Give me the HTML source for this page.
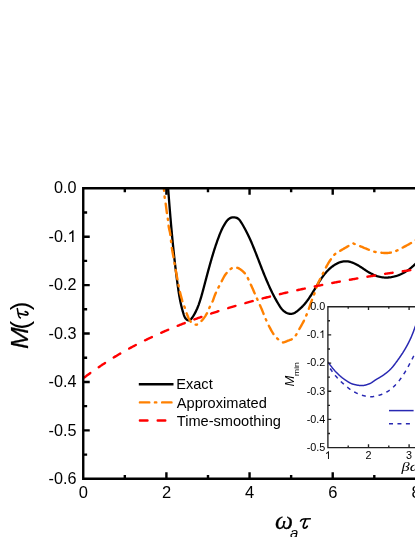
<!DOCTYPE html>
<html><head><meta charset="utf-8"><title>chart</title>
<style>
html,body{margin:0;padding:0;background:#fff;}
body{width:415px;height:537px;overflow:hidden;}
svg{display:block;will-change:transform;}
text{font-family:"Liberation Sans",sans-serif;fill:#000;}
.se{font-family:"Liberation Serif",serif;font-style:italic;}
</style></head><body>
<svg width="415" height="537" viewBox="0 0 415 537">
<rect width="415" height="537" fill="#fff"/>
<defs><clipPath id="cp"><rect x="83.24" y="188.25" width="400" height="290.55"/></clipPath><clipPath id="ci"><rect x="327.90" y="306.70" width="100" height="140.90"/></clipPath></defs>
<g clip-path="url(#cp)" fill="none" stroke-linejoin="round">
<path d="M166.03,160.03 L166.11,161.13 L166.20,162.24 L166.28,163.35 L166.36,164.46 L166.44,165.57 L166.52,166.67 L166.60,167.78 L166.69,168.89 L166.77,170.01 L166.85,171.12 L166.93,172.23 L167.01,173.34 L167.10,174.45 L167.18,175.56 L167.26,176.68 L167.34,177.79 L167.43,178.91 L167.51,180.02 L167.59,181.13 L167.67,182.25 L167.76,183.36 L167.84,184.48 L167.93,185.60 L168.01,186.71 L168.09,187.83 L168.18,188.94 L168.26,190.06 L168.35,191.18 L168.43,192.30 L168.52,193.41 L168.60,194.53 L168.69,195.65 L168.78,196.77 L168.86,197.89 L168.95,199.00 L169.04,200.12 L169.13,201.24 L169.22,202.36 L169.30,203.48 L169.39,204.60 L169.48,205.72 L169.57,206.84 L169.66,207.96 L169.75,209.08 L169.85,210.20 L169.94,211.32 L170.03,212.44 L170.12,213.55 L170.22,214.67 L170.31,215.79 L170.40,216.91 L170.50,218.03 L170.60,219.15 L170.69,220.27 L170.79,221.39 L170.89,222.51 L170.98,223.63 L171.08,224.75 L171.18,225.87 L171.28,226.99 L171.38,228.11 L171.48,229.23 L171.58,230.34 L171.69,231.46 L171.79,232.58 L171.89,233.70 L172.00,234.82 L172.10,235.93 L172.21,237.05 L172.32,238.17 L172.42,239.29 L172.53,240.40 L172.64,241.52 L172.75,242.64 L172.86,243.75 L172.97,244.87 L173.09,245.98 L173.20,247.10 L173.31,248.21 L173.43,249.33 L173.54,250.44 L173.66,251.55 L173.78,252.67 L173.90,253.78 L174.02,254.89 L174.14,256.00 L174.26,257.12 L174.38,258.23 L174.50,259.34 L174.63,260.45 L174.75,261.56 L174.88,262.67 L175.01,263.78 L175.13,264.89 L175.26,265.99 L175.39,267.10 L175.52,268.21 L175.66,269.31 L175.79,270.42 L175.93,271.53 L176.06,272.63 L176.20,273.73 L176.34,274.84 L176.48,275.94 L176.62,277.04 L176.76,278.14 L176.90,279.25 L177.04,280.35 L177.19,281.45 L177.33,282.54 L177.48,283.64 L177.63,284.74 L177.78,285.84 L177.93,286.93 L178.09,288.03 L178.24,289.13 L178.40,290.22 L178.57,291.32 L178.73,292.42 L178.91,293.51 L179.09,294.61 L179.27,295.71 L179.46,296.81 L179.66,297.92 L179.86,299.02 L180.08,300.13 L180.30,301.24 L180.53,302.35 L180.77,303.47 L181.02,304.59 L181.28,305.71 L181.56,306.84 L181.84,307.96 L182.14,309.10 L182.45,310.24 L182.77,311.38 L183.11,312.52 L183.46,313.67 L183.83,314.82 L184.24,315.93 L184.71,316.98 L185.23,317.95 L185.85,318.80 L186.56,319.51 L187.37,320.04 L188.23,320.35 L189.10,320.37 L189.92,320.06 L190.68,319.48 L191.41,318.70 L192.10,317.80 L192.75,316.85 L193.38,315.89 L193.98,314.91 L194.55,313.92 L195.10,312.91 L195.63,311.90 L196.13,310.87 L196.61,309.84 L197.08,308.79 L197.52,307.74 L197.94,306.68 L198.35,305.62 L198.75,304.55 L199.12,303.48 L199.49,302.41 L199.84,301.34 L200.18,300.27 L200.52,299.20 L200.84,298.13 L201.16,297.07 L201.47,296.00 L201.77,294.93 L202.07,293.87 L202.36,292.80 L202.65,291.73 L202.94,290.66 L203.22,289.59 L203.51,288.52 L203.80,287.45 L204.08,286.37 L204.37,285.30 L204.65,284.22 L204.93,283.14 L205.22,282.07 L205.50,280.99 L205.79,279.91 L206.08,278.83 L206.36,277.75 L206.65,276.67 L206.94,275.59 L207.22,274.50 L207.51,273.42 L207.80,272.34 L208.09,271.26 L208.39,270.17 L208.68,269.09 L208.98,268.01 L209.27,266.93 L209.57,265.85 L209.87,264.77 L210.18,263.68 L210.48,262.60 L210.79,261.52 L211.10,260.45 L211.41,259.37 L211.72,258.29 L212.04,257.21 L212.36,256.14 L212.68,255.06 L213.01,253.99 L213.34,252.92 L213.67,251.85 L214.00,250.78 L214.34,249.71 L214.68,248.64 L215.03,247.58 L215.38,246.51 L215.73,245.45 L216.09,244.39 L216.45,243.34 L216.81,242.28 L217.18,241.23 L217.56,240.17 L217.94,239.12 L218.32,238.08 L218.71,237.03 L219.10,235.99 L219.50,234.95 L219.91,233.92 L220.33,232.89 L220.77,231.86 L221.21,230.84 L221.68,229.82 L222.16,228.81 L222.65,227.80 L223.17,226.81 L223.71,225.81 L224.27,224.83 L224.86,223.85 L225.47,222.89 L226.11,221.93 L226.79,221.00 L227.52,220.13 L228.31,219.33 L229.19,218.65 L230.16,218.10 L231.21,217.69 L232.31,217.43 L233.44,217.32 L234.57,217.35 L235.68,217.54 L236.73,217.88 L237.70,218.37 L238.56,219.01 L239.34,219.78 L240.04,220.64 L240.69,221.57 L241.31,222.54 L241.91,223.51 L242.49,224.49 L243.07,225.47 L243.64,226.46 L244.19,227.45 L244.74,228.44 L245.28,229.43 L245.80,230.43 L246.32,231.43 L246.83,232.43 L247.33,233.43 L247.83,234.44 L248.31,235.45 L248.79,236.46 L249.26,237.48 L249.73,238.49 L250.19,239.51 L250.64,240.53 L251.09,241.55 L251.53,242.57 L251.96,243.60 L252.40,244.63 L252.82,245.66 L253.25,246.69 L253.67,247.72 L254.09,248.75 L254.50,249.79 L254.91,250.82 L255.32,251.86 L255.73,252.90 L256.14,253.94 L256.55,254.98 L256.95,256.02 L257.36,257.07 L257.76,258.11 L258.16,259.15 L258.57,260.20 L258.97,261.24 L259.38,262.29 L259.78,263.34 L260.18,264.38 L260.59,265.43 L261.00,266.47 L261.40,267.52 L261.81,268.56 L262.22,269.61 L262.64,270.65 L263.05,271.69 L263.47,272.73 L263.89,273.78 L264.31,274.82 L264.73,275.85 L265.16,276.89 L265.59,277.93 L266.02,278.96 L266.45,280.00 L266.89,281.03 L267.34,282.06 L267.78,283.08 L268.23,284.11 L268.69,285.13 L269.15,286.15 L269.61,287.17 L270.08,288.19 L270.56,289.20 L271.03,290.21 L271.52,291.22 L272.01,292.22 L272.50,293.23 L273.01,294.22 L273.51,295.22 L274.03,296.21 L274.55,297.20 L275.07,298.18 L275.61,299.16 L276.15,300.14 L276.69,301.11 L277.25,302.08 L277.81,303.05 L278.38,304.01 L278.96,304.96 L279.55,305.91 L280.16,306.84 L280.80,307.76 L281.49,308.64 L282.22,309.49 L283.01,310.30 L283.87,311.07 L284.80,311.78 L285.81,312.42 L286.87,312.98 L287.97,313.43 L289.09,313.74 L290.21,313.91 L291.30,313.90 L292.36,313.72 L293.39,313.39 L294.39,312.93 L295.36,312.38 L296.31,311.76 L297.23,311.09 L298.12,310.40 L298.99,309.68 L299.84,308.95 L300.67,308.19 L301.48,307.42 L302.27,306.62 L303.04,305.81 L303.79,304.98 L304.52,304.14 L305.24,303.28 L305.95,302.41 L306.63,301.52 L307.31,300.63 L307.97,299.72 L308.62,298.80 L309.26,297.88 L309.89,296.94 L310.51,296.00 L311.12,295.05 L311.72,294.10 L312.32,293.14 L312.91,292.18 L313.50,291.22 L314.08,290.25 L314.66,289.29 L315.24,288.32 L315.81,287.36 L316.38,286.40 L316.96,285.44 L317.54,284.48 L318.12,283.53 L318.70,282.58 L319.29,281.64 L319.89,280.71 L320.50,279.78 L321.11,278.86 L321.74,277.95 L322.38,277.05 L323.03,276.15 L323.70,275.27 L324.38,274.40 L325.08,273.54 L325.80,272.69 L326.55,271.85 L327.31,271.03 L328.09,270.22 L328.90,269.43 L329.73,268.66 L330.59,267.90 L331.47,267.16 L332.38,266.45 L333.31,265.77 L334.26,265.12 L335.23,264.50 L336.21,263.93 L337.22,263.41 L338.24,262.93 L339.28,262.51 L340.33,262.14 L341.39,261.83 L342.47,261.59 L343.56,261.41 L344.65,261.31 L345.76,261.29 L346.87,261.34 L347.99,261.47 L349.10,261.67 L350.21,261.93 L351.30,262.25 L352.38,262.62 L353.44,263.03 L354.47,263.47 L355.48,263.95 L356.46,264.46 L357.43,264.99 L358.38,265.54 L359.32,266.11 L360.25,266.70 L361.17,267.30 L362.09,267.91 L363.00,268.53 L363.92,269.15 L364.84,269.77 L365.76,270.39 L366.70,271.00 L367.65,271.60 L368.62,272.19 L369.60,272.76 L370.60,273.32 L371.63,273.85 L372.67,274.36 L373.73,274.85 L374.81,275.30 L375.89,275.71 L376.99,276.09 L378.09,276.43 L379.19,276.72 L380.29,276.97 L381.40,277.18 L382.50,277.34 L383.61,277.46 L384.71,277.54 L385.81,277.57 L386.91,277.57 L388.01,277.52 L389.10,277.44 L390.19,277.32 L391.28,277.17 L392.36,276.98 L393.43,276.75 L394.50,276.49 L395.57,276.19 L396.62,275.87 L397.67,275.51 L398.72,275.12 L399.75,274.70 L400.77,274.26 L401.79,273.78 L402.79,273.28 L403.78,272.76 L404.76,272.20 L405.73,271.62 L406.69,271.02 L407.64,270.40 L408.57,269.76 L409.49,269.09 L410.39,268.40 L411.28,267.70 L412.15,266.97 L413.01,266.23 L413.85,265.47 L414.67,264.70 L415.48,263.91 L416.26,263.11 L417.03,262.29 L417.78,261.47 L418.51,260.63 L419.22,259.78 L419.90,258.92" stroke="#000" stroke-width="2.3"/>
<path d="M161.60,160.00 L162.12,166.39 L162.64,172.77 L163.15,179.16 L163.67,185.55 L164.19,192.10 L164.71,197.83 L165.22,200.85 L165.74,204.00 L166.26,208.12 L166.78,212.31 L167.30,215.66 L167.81,218.67 L168.33,223.87 L168.85,227.55 L169.37,229.88 L169.89,232.05 L170.40,235.02 L170.92,240.24 L171.44,244.81 L171.96,248.68 L172.47,251.84 L172.99,254.63 L173.51,257.42 L174.03,260.47 L174.55,263.57 L175.06,266.50 L175.58,269.35 L176.10,272.19 L176.62,275.01 L177.14,277.81 L177.65,280.57 L178.17,283.29 L178.69,285.98 L179.21,288.63 L179.72,290.97 L180.24,293.14 L180.76,295.21 L181.28,297.18 L181.80,299.05 L182.31,300.82 L182.83,302.48 L183.35,304.02 L183.87,305.36 L184.38,306.64 L184.90,308.01 L185.42,309.59 L185.94,311.27 L186.46,312.85 L186.97,314.18 L187.49,315.48 L188.01,316.75 L188.53,317.96 L189.05,319.08 L189.56,320.09 L190.08,320.94 L190.60,321.61 L191.12,322.08 L191.63,322.50 L192.15,322.91 L192.67,323.28 L193.19,323.62 L193.71,323.93 L194.22,324.19 L194.74,324.41 L195.26,324.56 L195.78,324.66 L196.29,324.70 L196.81,324.64 L197.33,324.46 L197.85,324.18 L198.37,323.82 L198.88,323.40 L199.40,322.93 L199.92,322.44 L200.44,321.93 L200.96,321.43 L201.47,320.94 L201.99,320.41 L202.51,319.84 L203.03,319.23 L203.54,318.57 L204.06,317.88 L204.58,317.15 L205.10,316.38 L205.62,315.57 L206.13,314.73 L206.65,313.86 L207.17,312.95 L207.69,311.93 L208.21,310.73 L208.72,309.45 L209.24,308.18 L209.76,306.99 L210.28,305.93 L210.79,304.96 L211.31,304.01 L211.83,303.02 L212.35,301.96 L212.87,300.75 L213.38,299.34 L213.90,297.83 L214.42,296.32 L214.94,294.95 L215.45,293.74 L215.97,292.57 L216.49,291.45 L217.01,290.37 L217.53,289.33 L218.04,288.30 L218.56,287.30 L219.08,286.31 L219.60,285.32 L220.12,284.34 L220.63,283.34 L221.15,282.33 L221.67,281.29 L222.19,280.25 L222.70,279.23 L223.22,278.22 L223.74,277.26 L224.26,276.34 L224.78,275.49 L225.29,274.72 L225.81,274.03 L226.33,273.37 L226.85,272.74 L227.37,272.13 L227.88,271.55 L228.40,271.00 L228.92,270.48 L229.44,269.99 L229.95,269.54 L230.47,269.12 L230.99,268.74 L231.51,268.40 L232.03,268.06 L232.54,267.73 L233.06,267.44 L233.58,267.25 L234.10,267.20 L234.61,267.23 L235.13,267.30 L235.65,267.39 L236.17,267.50 L236.69,267.62 L237.20,267.76 L237.72,267.94 L238.24,268.16 L238.76,268.40 L239.28,268.68 L239.79,268.99 L240.31,269.33 L240.83,269.70 L241.35,270.10 L241.86,270.51 L242.38,270.96 L242.90,271.42 L243.42,271.91 L243.94,272.41 L244.45,272.93 L244.97,273.47 L245.49,274.08 L246.01,274.81 L246.53,275.64 L247.04,276.57 L247.56,277.58 L248.08,278.64 L248.60,279.75 L249.11,280.88 L249.63,282.03 L250.15,283.18 L250.67,284.30 L251.19,285.39 L251.70,286.50 L252.22,287.65 L252.74,288.82 L253.26,290.01 L253.77,291.22 L254.29,292.44 L254.81,293.66 L255.33,294.88 L255.85,296.09 L256.36,297.28 L256.88,298.46 L257.40,299.61 L257.92,300.76 L258.44,301.89 L258.95,303.02 L259.47,304.15 L259.99,305.29 L260.51,306.45 L261.02,307.63 L261.54,308.84 L262.06,310.08 L262.58,311.34 L263.10,312.62 L263.61,313.91 L264.13,315.20 L264.65,316.47 L265.17,317.72 L265.68,318.95 L266.20,320.13 L266.72,321.30 L267.24,322.45 L267.76,323.58 L268.27,324.65 L268.79,325.68 L269.31,326.68 L269.83,327.67 L270.35,328.66 L270.86,329.62 L271.38,330.57 L271.90,331.49 L272.42,332.37 L272.93,333.21 L273.45,334.01 L273.97,334.76 L274.49,335.46 L275.01,336.10 L275.52,336.69 L276.04,337.25 L276.56,337.77 L277.08,338.28 L277.60,338.76 L278.11,339.24 L278.63,339.71 L279.15,340.20 L279.67,340.68 L280.18,341.13 L280.70,341.53 L281.22,341.86 L281.74,342.14 L282.26,342.39 L282.77,342.50 L283.29,342.45 L283.81,342.31 L284.33,342.15 L284.84,341.99 L285.36,341.81 L285.88,341.60 L286.40,341.38 L286.92,341.16 L287.43,340.93 L287.95,340.72 L288.47,340.52 L288.99,340.34 L289.51,340.17 L290.02,339.99 L290.54,339.81 L291.06,339.60 L291.58,339.38 L292.09,339.11 L292.61,338.80 L293.13,338.38 L293.65,337.88 L294.17,337.34 L294.68,336.77 L295.20,336.12 L295.72,335.40 L296.24,334.64 L296.76,333.81 L297.27,332.91 L297.79,331.96 L298.31,330.98 L298.83,330.02 L299.34,329.08 L299.86,328.15 L300.38,327.23 L300.90,326.32 L301.42,325.40 L301.93,324.48 L302.45,323.53 L302.97,322.57 L303.49,321.58 L304.00,320.56 L304.52,319.50 L305.04,318.39 L305.56,317.23 L306.08,316.00 L306.59,314.72 L307.11,313.40 L307.63,312.06 L308.15,310.70 L308.67,309.32 L309.18,307.89 L309.70,306.42 L310.22,304.93 L310.74,303.44 L311.25,301.95 L311.77,300.50 L312.29,299.09 L312.81,297.75 L313.33,296.44 L313.84,295.11 L314.36,293.74 L314.88,292.27 L315.40,290.63 L315.92,288.93 L316.43,287.35 L316.95,286.00 L317.47,284.73 L317.99,283.52 L318.50,282.36 L319.02,281.25 L319.54,280.17 L320.06,279.12 L320.58,278.09 L321.09,277.07 L321.61,276.06 L322.13,275.04 L322.65,274.01 L323.16,272.97 L323.68,271.93 L324.20,270.90 L324.72,269.88 L325.24,268.86 L325.75,267.86 L326.27,266.88 L326.79,265.91 L327.31,264.97 L327.83,264.06 L328.34,263.18 L328.86,262.32 L329.38,261.51 L329.90,260.72 L330.41,259.96 L330.93,259.23 L331.45,258.52 L331.97,257.82 L332.49,257.15 L333.00,256.47 L333.52,255.79 L334.04,255.13 L334.56,254.53 L335.07,254.01 L335.59,253.58 L336.11,253.20 L336.63,252.84 L337.15,252.52 L337.66,252.22 L338.18,251.93 L338.70,251.64 L339.22,251.35 L339.74,251.06 L340.25,250.75 L340.77,250.44 L341.29,250.14 L341.81,249.84 L342.32,249.54 L342.84,249.24 L343.36,248.94 L343.88,248.65 L344.40,248.35 L344.91,248.05 L345.43,247.75 L345.95,247.45 L346.47,247.15 L346.99,246.85 L347.50,246.55 L348.02,246.25 L348.54,245.95 L349.06,245.65 L349.57,245.35 L350.09,245.05 L350.61,244.73 L351.13,244.40 L351.65,244.09 L352.16,243.82 L352.68,243.55 L353.20,243.40 L353.72,243.56 L354.23,243.81 L354.75,244.02 L355.27,244.22 L355.79,244.42 L356.31,244.63 L356.82,244.83 L357.34,245.04 L357.86,245.25 L358.38,245.45 L358.90,245.67 L359.41,245.88 L359.93,246.09 L360.45,246.30 L360.97,246.52 L361.48,246.73 L362.00,246.95 L362.52,247.17 L363.04,247.39 L363.56,247.60 L364.07,247.82 L364.59,248.03 L365.11,248.24 L365.63,248.46 L366.15,248.67 L366.66,248.88 L367.18,249.09 L367.70,249.30 L368.22,249.51 L368.73,249.71 L369.25,249.91 L369.77,250.10 L370.29,250.30 L370.81,250.50 L371.32,250.70 L371.84,250.90 L372.36,251.10 L372.88,251.28 L373.39,251.46 L373.91,251.62 L374.43,251.77 L374.95,251.90 L375.47,252.01 L375.98,252.11 L376.50,252.20 L377.02,252.29 L377.54,252.38 L378.06,252.46 L378.57,252.53 L379.09,252.60 L379.61,252.66 L380.13,252.71 L380.64,252.75 L381.16,252.79 L381.68,252.82 L382.20,252.85 L382.72,252.88 L383.23,252.91 L383.75,252.93 L384.27,252.95 L384.79,252.97 L385.31,252.99 L385.82,253.00 L386.34,253.00 L386.86,253.00 L387.38,252.98 L387.89,252.95 L388.41,252.90 L388.93,252.85 L389.45,252.79 L389.97,252.72 L390.48,252.64 L391.00,252.56 L391.52,252.48 L392.04,252.38 L392.55,252.25 L393.07,252.10 L393.59,251.93 L394.11,251.74 L394.63,251.54 L395.14,251.34 L395.66,251.12 L396.18,250.90 L396.70,250.68 L397.22,250.47 L397.73,250.23 L398.25,249.98 L398.77,249.72 L399.29,249.45 L399.80,249.17 L400.32,248.88 L400.84,248.60 L401.36,248.31 L401.88,248.03 L402.39,247.75 L402.91,247.48 L403.43,247.20 L403.95,246.92 L404.46,246.65 L404.98,246.37 L405.50,246.10 L406.02,245.82 L406.54,245.54 L407.05,245.26 L407.57,244.97 L408.09,244.69 L408.61,244.40 L409.13,244.12 L409.64,243.82 L410.16,243.53 L410.68,243.23 L411.20,242.94 L411.71,242.63 L412.23,242.32 L412.75,242.01 L413.27,241.68 L413.79,241.36 L414.30,241.03 L414.82,240.71 L415.34,240.39 L415.86,240.07 L416.38,239.75 L416.89,239.43 L417.41,239.11 L417.93,238.79 L418.45,238.46 L418.96,238.14 L419.48,237.82 L420.00,237.50" stroke="#ff8000" stroke-width="2.4" stroke-linecap="round" stroke-dasharray="9.5 5.65 1.4 5.85" stroke-dashoffset="1"/>
<path d="M83.24,378.32 L83.96,377.77 L84.68,377.22 L85.41,376.67 L86.13,376.12 L86.86,375.58 L87.59,375.04 L88.32,374.50 L89.05,373.96 L89.78,373.42 L90.52,372.89 L91.25,372.36 L91.99,371.83 L92.73,371.30 L93.47,370.78 L94.21,370.25 L94.95,369.73 L95.70,369.21 L96.44,368.69 L97.19,368.18 L97.94,367.66 L98.69,367.15 L99.44,366.64 L100.19,366.14 L100.94,365.63 L101.70,365.13 L102.46,364.62 L103.21,364.13 L103.97,363.63 L104.73,363.13 L105.49,362.64 L106.26,362.15 L107.02,361.66 L107.79,361.17 L108.55,360.68 L109.32,360.20 L110.09,359.72 L110.86,359.24 L111.63,358.76 L112.40,358.28 L113.18,357.81 L113.95,357.34 L114.73,356.86 L115.51,356.40 L116.29,355.93 L117.07,355.46 L117.85,355.00 L118.63,354.54 L119.41,354.08 L120.20,353.62 L120.98,353.17 L121.77,352.72 L122.55,352.26 L123.34,351.82 L124.13,351.37 L124.92,350.92 L125.72,350.48 L126.51,350.03 L127.30,349.59 L128.10,349.16 L128.89,348.72 L129.69,348.28 L130.49,347.85 L131.29,347.42 L132.08,346.99 L132.89,346.56 L133.69,346.14 L134.49,345.71 L135.29,345.29 L136.10,344.87 L136.90,344.45 L137.71,344.03 L138.52,343.62 L139.32,343.21 L140.13,342.79 L140.94,342.38 L141.75,341.97 L142.56,341.57 L143.38,341.16 L144.19,340.76 L145.00,340.36 L145.82,339.96 L146.64,339.56 L147.45,339.16 L148.27,338.77 L149.09,338.38 L149.91,337.99 L150.73,337.60 L151.55,337.21 L152.37,336.82 L153.19,336.44 L154.01,336.05 L154.84,335.67 L155.66,335.29 L156.49,334.91 L157.31,334.54 L158.14,334.16 L158.97,333.79 L159.79,333.42 L160.62,333.05 L161.45,332.68 L162.28,332.31 L163.11,331.94 L163.94,331.58 L164.78,331.22 L165.61,330.86 L166.44,330.50 L167.28,330.14 L168.11,329.78 L168.95,329.43 L169.78,329.08 L170.62,328.72 L171.46,328.37 L172.30,328.02 L173.13,327.68 L173.97,327.33 L174.81,326.99 L175.65,326.64 L176.49,326.30 L177.34,325.96 L178.18,325.62 L179.02,325.29 L179.86,324.95 L180.71,324.62 L181.55,324.28 L182.40,323.95 L183.24,323.62 L184.09,323.29 L184.94,322.96 L185.78,322.64 L186.63,322.31 L187.48,321.99 L188.33,321.67 L189.18,321.35 L190.03,321.03 L190.88,320.71 L191.73,320.39 L192.58,320.08 L193.43,319.77 L194.28,319.45 L195.13,319.14 L195.99,318.83 L196.84,318.52 L197.70,318.22 L198.55,317.91 L199.40,317.60 L200.26,317.30 L201.12,317.00 L201.97,316.70 L202.83,316.40 L203.69,316.10 L204.54,315.80 L205.40,315.51 L206.26,315.21 L207.12,314.92 L207.98,314.63 L208.84,314.33 L209.70,314.04 L210.56,313.76 L211.42,313.47 L212.28,313.18 L213.14,312.90 L214.01,312.61 L214.87,312.33 L215.73,312.05 L216.59,311.77 L217.46,311.49 L218.32,311.21 L219.19,310.93 L220.05,310.66 L220.92,310.38 L221.78,310.11 L222.65,309.83 L223.51,309.56 L224.38,309.29 L225.25,309.02 L226.11,308.75 L226.98,308.49 L227.85,308.22 L228.72,307.96 L229.59,307.69 L230.45,307.43 L231.32,307.17 L232.19,306.91 L233.06,306.65 L233.93,306.39 L234.80,306.13 L235.67,305.87 L236.54,305.62 L237.42,305.36 L238.29,305.11 L239.16,304.86 L240.03,304.61 L240.90,304.36 L241.78,304.11 L242.65,303.86 L243.52,303.61 L244.40,303.36 L245.27,303.12 L246.14,302.87 L247.02,302.63 L247.89,302.39 L248.77,302.15 L249.64,301.90 L250.52,301.66 L251.39,301.43 L252.27,301.19 L253.15,300.95 L254.02,300.71 L254.90,300.48 L255.78,300.24 L256.65,300.01 L257.53,299.78 L258.41,299.55 L259.29,299.32 L260.16,299.09 L261.04,298.86 L261.92,298.63 L262.80,298.40 L263.68,298.18 L264.56,297.95 L265.44,297.73 L266.32,297.50 L267.20,297.28 L268.08,297.06 L268.96,296.84 L269.84,296.62 L270.72,296.40 L271.60,296.18 L272.48,295.96 L273.36,295.74 L274.24,295.53 L275.13,295.31 L276.01,295.10 L276.89,294.88 L277.77,294.67 L278.66,294.46 L279.54,294.25 L280.42,294.04 L281.30,293.83 L282.19,293.62 L283.07,293.41 L283.95,293.20 L284.84,293.00 L285.72,292.79 L286.61,292.59 L287.49,292.38 L288.38,292.18 L289.26,291.98 L290.15,291.77 L291.03,291.57 L291.92,291.37 L292.80,291.17 L293.69,290.97 L294.57,290.78 L295.46,290.58 L296.34,290.38 L297.23,290.18 L298.12,289.99 L299.00,289.79 L299.89,289.60 L300.78,289.41 L301.66,289.21 L302.55,289.02 L303.44,288.83 L304.33,288.64 L305.21,288.45 L306.10,288.26 L306.99,288.07 L307.88,287.89 L308.77,287.70 L309.65,287.51 L310.54,287.33 L311.43,287.14 L312.32,286.96 L313.21,286.77 L314.10,286.59 L314.99,286.41 L315.88,286.23 L316.77,286.04 L317.66,285.86 L318.55,285.68 L319.44,285.51 L320.33,285.33 L321.22,285.15 L322.11,284.97 L323.00,284.79 L323.89,284.62 L324.78,284.44 L325.67,284.27 L326.56,284.09 L327.45,283.92 L328.34,283.75 L329.23,283.57 L330.12,283.40 L331.01,283.23 L331.91,283.06 L332.80,282.89 L333.69,282.72 L334.58,282.55 L335.47,282.38 L336.36,282.22 L337.26,282.05 L338.15,281.88 L339.04,281.72 L339.93,281.55 L340.83,281.39 L341.72,281.22 L342.61,281.06 L343.50,280.89 L344.40,280.73 L345.29,280.57 L346.18,280.41 L347.08,280.25 L347.97,280.09 L348.86,279.93 L349.76,279.77 L350.65,279.61 L351.55,279.45 L352.44,279.29 L353.33,279.14 L354.23,278.98 L355.12,278.82 L356.02,278.67 L356.91,278.51 L357.80,278.36 L358.70,278.20 L359.59,278.05 L360.49,277.90 L361.38,277.74 L362.28,277.59 L363.17,277.44 L364.07,277.29 L364.96,277.14 L365.86,276.99 L366.75,276.84 L367.65,276.69 L368.54,276.54 L369.44,276.39 L370.34,276.25 L371.23,276.10 L372.13,275.95 L373.02,275.81 L373.92,275.66 L374.81,275.51 L375.71,275.37 L376.61,275.22 L377.50,275.08 L378.40,274.94 L379.30,274.79 L380.19,274.65 L381.09,274.51 L381.99,274.37 L382.88,274.23 L383.78,274.09 L384.68,273.95 L385.57,273.81 L386.47,273.67 L387.37,273.53 L388.26,273.39 L389.16,273.25 L390.06,273.11 L390.95,272.98 L391.85,272.84 L392.75,272.70 L393.65,272.57 L394.54,272.43 L395.44,272.30 L396.34,272.16 L397.24,272.03 L398.14,271.90 L399.03,271.76 L399.93,271.63 L400.83,271.50 L401.73,271.36 L402.62,271.23 L403.52,271.10 L404.42,270.97 L405.32,270.84 L406.22,270.71 L407.12,270.58 L408.01,270.45 L408.91,270.32 L409.81,270.19 L410.71,270.07 L411.61,269.94 L412.51,269.81 L413.41,269.68 L414.31,269.56 L415.20,269.43 L416.10,269.31 L417.00,269.18 L417.90,269.06 L418.80,268.93 L419.70,268.81 L420.60,268.68 L421.50,268.56 L422.40,268.44 L423.30,268.31 L424.20,268.19" stroke="#ff0000" stroke-width="2.4" stroke-linecap="round" stroke-dasharray="7.6 10.26" stroke-dashoffset="-1.2"/>
</g>
<g stroke="#000" stroke-width="2.4" fill="none">
<path d="M420,188.25 H83.24 V478.80 H420"/>
<path d="M124.82,478.80 v-3.90 M124.82,188.25 v3.90 M166.40,478.80 v-6.50 M166.40,188.25 v6.50 M207.98,478.80 v-3.90 M207.98,188.25 v3.90 M249.56,478.80 v-6.50 M249.56,188.25 v6.50 M291.14,478.80 v-3.90 M291.14,188.25 v3.90 M332.72,478.80 v-6.50 M332.72,188.25 v6.50 M374.30,478.80 v-3.90 M374.30,188.25 v3.90 M83.24,212.46 h3.90 M83.24,236.68 h6.50 M83.24,260.89 h3.90 M83.24,285.10 h6.50 M83.24,309.31 h3.90 M83.24,333.52 h6.50 M83.24,357.74 h3.90 M83.24,381.95 h6.50 M83.24,406.16 h3.90 M83.24,430.38 h6.50 M83.24,454.59 h3.90"/>
</g>
<g font-size="16.2" text-anchor="end">
<text x="76.5" y="193.45">0.0</text>
<text x="67.49" y="241.88">-0.</text><path fill="#000" d="M73.53,242.00 L72.10,242.00 L72.10,232.93 Q70.89,233.90 69.26,234.45 L69.26,233.07 Q71.54,232.12 72.61,230.36 L73.53,230.36 Z"/>
<text x="76.5" y="290.30">-0.2</text>
<text x="76.5" y="338.72">-0.3</text>
<text x="76.5" y="387.15">-0.4</text>
<text x="76.5" y="435.57">-0.5</text>
<text x="76.5" y="484.00">-0.6</text>
</g>
<g font-size="16.5" text-anchor="middle">
<text x="83.39" y="498.0">0</text>
<text x="166.55" y="498.0">2</text>
<text x="249.71" y="498.0">4</text>
<text x="332.87" y="498.0">6</text>
<text x="416.03" y="498.0">8</text>
</g>
<g transform="translate(28.1,349.3) rotate(-90)" font-size="24" font-style="italic"><text transform="scale(1.09,1)" x="0.2" y="0" stroke="#000" stroke-width="0.2">M</text><text x="19.7" y="0.4" font-style="normal" font-size="25.7">(</text><g fill="none" stroke="#000"><path d="M31.0,-7.2 C31.5,-8.4 32.3,-9.2 33.6,-9.5 L41.3,-10.9" stroke-width="1.5"/><path d="M35.9,-9.6 L34.4,-2.6 C34.1,-0.9 34.8,-0.1 35.9,-0.2 C36.9,-0.35 37.5,-1.6 37.7,-2.8" stroke-width="1.8" stroke-linecap="round"/></g><text x="39.0" y="0.4" font-style="normal" font-size="25.7">)</text></g>
<text x="275.0" y="529.3" class="se" font-size="25.5" stroke="#000" stroke-width="0.25">ω</text><text x="290.0" y="537.6" font-size="15" font-style="italic">a</text><g fill="none" stroke="#000"><path d="M300.2,521.6 C300.9,520.2 301.9,519.1 303.6,519 L310.9,518.75" stroke-width="1.5"/><path d="M305.7,519.3 L303.5,525.3 C302.9,527.3 303.6,528.2 304.9,528.15 C306,528.1 306.8,527.3 307.3,526.2" stroke-width="1.75" stroke-linecap="round"/></g>
<g fill="none" stroke-width="2.4" stroke-linecap="round">
<path d="M138.8,384.3 H173.5" stroke="#000" stroke-linecap="butt"/>
<path d="M139.9,402.4 H173" stroke="#ff8000" stroke-dasharray="9.4 5.6 1.4 5.8"/>
<path d="M139.9,420.5 H168" stroke="#ff0000" stroke-dasharray="7.6 10.2"/>
</g>
<g font-size="14.6">
<text x="176.2" y="389.4">Exact</text>
<text x="176.8" y="407.5">Approximated</text>
<text x="176.8" y="425.5">Time-smoothing</text>
</g>
<g clip-path="url(#ci)" fill="none" stroke="#2828b2" stroke-width="1.5">
<path d="M320.00,352.50 L320.20,352.75 L320.40,353.00 L320.60,353.24 L320.80,353.49 L321.00,353.74 L321.20,353.99 L321.40,354.23 L321.60,354.48 L321.80,354.73 L322.00,354.98 L322.20,355.22 L322.40,355.47 L322.61,355.72 L322.81,355.96 L323.01,356.21 L323.21,356.46 L323.41,356.70 L323.61,356.95 L323.81,357.20 L324.01,357.44 L324.21,357.69 L324.41,357.93 L324.61,358.18 L324.81,358.43 L325.01,358.67 L325.21,358.92 L325.41,359.16 L325.61,359.41 L325.81,359.66 L326.01,359.90 L326.21,360.15 L326.41,360.39 L326.61,360.64 L326.81,360.88 L327.01,361.13 L327.21,361.37 L327.41,361.62 L327.62,361.86 L327.82,362.11 L328.02,362.35 L328.22,362.60 L328.42,362.84 L328.62,363.09 L328.82,363.34 L329.02,363.59 L329.22,363.84 L329.42,364.09 L329.62,364.34 L329.82,364.60 L330.02,364.85 L330.22,365.11 L330.42,365.36 L330.62,365.62 L330.82,365.88 L331.02,366.13 L331.22,366.39 L331.42,366.64 L331.62,366.90 L331.82,367.15 L332.02,367.41 L332.22,367.66 L332.42,367.91 L332.63,368.16 L332.83,368.41 L333.03,368.65 L333.23,368.90 L333.43,369.14 L333.63,369.38 L333.83,369.62 L334.03,369.85 L334.23,370.09 L334.43,370.32 L334.63,370.54 L334.83,370.77 L335.03,370.99 L335.23,371.20 L335.43,371.42 L335.63,371.63 L335.83,371.83 L336.03,372.04 L336.23,372.24 L336.43,372.44 L336.63,372.64 L336.83,372.84 L337.03,373.04 L337.23,373.24 L337.43,373.44 L337.64,373.63 L337.84,373.83 L338.04,374.02 L338.24,374.21 L338.44,374.40 L338.64,374.59 L338.84,374.78 L339.04,374.96 L339.24,375.15 L339.44,375.33 L339.64,375.52 L339.84,375.70 L340.04,375.88 L340.24,376.05 L340.44,376.23 L340.64,376.40 L340.84,376.58 L341.04,376.75 L341.24,376.92 L341.44,377.09 L341.64,377.25 L341.84,377.41 L342.04,377.58 L342.24,377.74 L342.44,377.90 L342.65,378.05 L342.85,378.21 L343.05,378.36 L343.25,378.51 L343.45,378.66 L343.65,378.80 L343.85,378.95 L344.05,379.09 L344.25,379.23 L344.45,379.37 L344.65,379.50 L344.85,379.64 L345.05,379.77 L345.25,379.91 L345.45,380.05 L345.65,380.18 L345.85,380.32 L346.05,380.46 L346.25,380.59 L346.45,380.73 L346.65,380.86 L346.85,381.00 L347.05,381.13 L347.25,381.26 L347.45,381.39 L347.66,381.52 L347.86,381.65 L348.06,381.78 L348.26,381.90 L348.46,382.03 L348.66,382.15 L348.86,382.27 L349.06,382.39 L349.26,382.50 L349.46,382.62 L349.66,382.73 L349.86,382.84 L350.06,382.95 L350.26,383.05 L350.46,383.15 L350.66,383.25 L350.86,383.35 L351.06,383.44 L351.26,383.53 L351.46,383.61 L351.66,383.70 L351.86,383.77 L352.06,383.85 L352.26,383.92 L352.46,383.99 L352.67,384.05 L352.87,384.11 L353.07,384.17 L353.27,384.22 L353.47,384.27 L353.67,384.32 L353.87,384.37 L354.07,384.41 L354.27,384.46 L354.47,384.51 L354.67,384.56 L354.87,384.61 L355.07,384.65 L355.27,384.70 L355.47,384.75 L355.67,384.79 L355.87,384.83 L356.07,384.88 L356.27,384.92 L356.47,384.96 L356.67,385.00 L356.87,385.04 L357.07,385.08 L357.27,385.12 L357.47,385.16 L357.68,385.19 L357.88,385.23 L358.08,385.26 L358.28,385.29 L358.48,385.32 L358.68,385.35 L358.88,385.38 L359.08,385.41 L359.28,385.43 L359.48,385.46 L359.68,385.48 L359.88,385.50 L360.08,385.52 L360.28,385.53 L360.48,385.55 L360.68,385.56 L360.88,385.57 L361.08,385.58 L361.28,385.59 L361.48,385.60 L361.68,385.60 L361.88,385.60 L362.08,385.60 L362.28,385.59 L362.48,385.58 L362.69,385.57 L362.89,385.55 L363.09,385.53 L363.29,385.51 L363.49,385.48 L363.69,385.45 L363.89,385.42 L364.09,385.38 L364.29,385.34 L364.49,385.30 L364.69,385.25 L364.89,385.21 L365.09,385.16 L365.29,385.11 L365.49,385.05 L365.69,385.00 L365.89,384.94 L366.09,384.88 L366.29,384.82 L366.49,384.75 L366.69,384.69 L366.89,384.62 L367.09,384.56 L367.29,384.49 L367.49,384.42 L367.70,384.35 L367.90,384.28 L368.10,384.21 L368.30,384.14 L368.50,384.06 L368.70,383.99 L368.90,383.92 L369.10,383.85 L369.30,383.77 L369.50,383.70 L369.70,383.62 L369.90,383.54 L370.10,383.45 L370.30,383.36 L370.50,383.26 L370.70,383.15 L370.90,383.04 L371.10,382.93 L371.30,382.81 L371.50,382.69 L371.70,382.56 L371.90,382.43 L372.10,382.30 L372.30,382.16 L372.51,382.03 L372.71,381.89 L372.91,381.75 L373.11,381.60 L373.31,381.46 L373.51,381.32 L373.71,381.17 L373.91,381.03 L374.11,380.88 L374.31,380.74 L374.51,380.60 L374.71,380.46 L374.91,380.32 L375.11,380.18 L375.31,380.04 L375.51,379.91 L375.71,379.78 L375.91,379.65 L376.11,379.53 L376.31,379.41 L376.51,379.29 L376.71,379.17 L376.91,379.05 L377.11,378.93 L377.31,378.82 L377.52,378.70 L377.72,378.58 L377.92,378.47 L378.12,378.35 L378.32,378.24 L378.52,378.13 L378.72,378.01 L378.92,377.90 L379.12,377.78 L379.32,377.67 L379.52,377.55 L379.72,377.43 L379.92,377.32 L380.12,377.20 L380.32,377.08 L380.52,376.96 L380.72,376.84 L380.92,376.72 L381.12,376.60 L381.32,376.47 L381.52,376.34 L381.72,376.22 L381.92,376.09 L382.12,375.95 L382.32,375.82 L382.53,375.68 L382.73,375.55 L382.93,375.41 L383.13,375.27 L383.33,375.13 L383.53,374.99 L383.73,374.85 L383.93,374.70 L384.13,374.56 L384.33,374.41 L384.53,374.27 L384.73,374.12 L384.93,373.97 L385.13,373.82 L385.33,373.67 L385.53,373.52 L385.73,373.37 L385.93,373.21 L386.13,373.06 L386.33,372.90 L386.53,372.74 L386.73,372.58 L386.93,372.42 L387.13,372.25 L387.33,372.09 L387.54,371.92 L387.74,371.75 L387.94,371.58 L388.14,371.41 L388.34,371.23 L388.54,371.05 L388.74,370.88 L388.94,370.69 L389.14,370.51 L389.34,370.33 L389.54,370.14 L389.74,369.95 L389.94,369.76 L390.14,369.56 L390.34,369.36 L390.54,369.16 L390.74,368.95 L390.94,368.75 L391.14,368.53 L391.34,368.32 L391.54,368.10 L391.74,367.87 L391.94,367.65 L392.14,367.42 L392.34,367.19 L392.55,366.95 L392.75,366.71 L392.95,366.47 L393.15,366.23 L393.35,365.98 L393.55,365.74 L393.75,365.48 L393.95,365.23 L394.15,364.98 L394.35,364.72 L394.55,364.46 L394.75,364.20 L394.95,363.94 L395.15,363.67 L395.35,363.41 L395.55,363.14 L395.75,362.87 L395.95,362.60 L396.15,362.33 L396.35,362.05 L396.55,361.78 L396.75,361.50 L396.95,361.23 L397.15,360.95 L397.35,360.67 L397.56,360.40 L397.76,360.12 L397.96,359.84 L398.16,359.56 L398.36,359.28 L398.56,359.00 L398.76,358.72 L398.96,358.44 L399.16,358.16 L399.36,357.87 L399.56,357.59 L399.76,357.30 L399.96,357.01 L400.16,356.72 L400.36,356.43 L400.56,356.14 L400.76,355.84 L400.96,355.55 L401.16,355.25 L401.36,354.95 L401.56,354.65 L401.76,354.34 L401.96,354.04 L402.16,353.73 L402.36,353.42 L402.57,353.11 L402.77,352.80 L402.97,352.48 L403.17,352.16 L403.37,351.84 L403.57,351.52 L403.77,351.20 L403.97,350.87 L404.17,350.54 L404.37,350.21 L404.57,349.88 L404.77,349.54 L404.97,349.21 L405.17,348.87 L405.37,348.52 L405.57,348.18 L405.77,347.83 L405.97,347.48 L406.17,347.13 L406.37,346.77 L406.57,346.41 L406.77,346.05 L406.97,345.69 L407.17,345.32 L407.37,344.95 L407.58,344.57 L407.78,344.20 L407.98,343.82 L408.18,343.43 L408.38,343.04 L408.58,342.65 L408.78,342.25 L408.98,341.86 L409.18,341.45 L409.38,341.04 L409.58,340.63 L409.78,340.22 L409.98,339.80 L410.18,339.37 L410.38,338.94 L410.58,338.51 L410.78,338.07 L410.98,337.63 L411.18,337.18 L411.38,336.73 L411.58,336.27 L411.78,335.81 L411.98,335.33 L412.18,334.84 L412.38,334.34 L412.59,333.82 L412.79,333.30 L412.99,332.77 L413.19,332.23 L413.39,331.69 L413.59,331.14 L413.79,330.59 L413.99,330.04 L414.19,329.49 L414.39,328.95 L414.59,328.40 L414.79,327.86 L414.99,327.33 L415.19,326.80 L415.39,326.27 L415.59,325.73 L415.79,325.20 L415.99,324.67 L416.19,324.14 L416.39,323.61 L416.59,323.08 L416.79,322.54 L416.99,322.01 L417.19,321.48 L417.39,320.95 L417.60,320.41 L417.80,319.88 L418.00,319.35 L418.20,318.81 L418.40,318.28 L418.60,317.75 L418.80,317.21 L419.00,316.68 L419.20,316.14 L419.40,315.61 L419.60,315.07 L419.80,314.54 L420.00,314.00"/>
<path d="M320.00,355.00 L320.20,355.26 L320.40,355.53 L320.60,355.79 L320.80,356.05 L321.00,356.32 L321.20,356.58 L321.40,356.85 L321.60,357.11 L321.80,357.37 L322.00,357.64 L322.20,357.90 L322.40,358.17 L322.61,358.43 L322.81,358.70 L323.01,358.96 L323.21,359.23 L323.41,359.49 L323.61,359.76 L323.81,360.02 L324.01,360.29 L324.21,360.55 L324.41,360.82 L324.61,361.09 L324.81,361.35 L325.01,361.62 L325.21,361.88 L325.41,362.15 L325.61,362.42 L325.81,362.68 L326.01,362.95 L326.21,363.22 L326.41,363.48 L326.61,363.75 L326.81,364.02 L327.01,364.28 L327.21,364.55 L327.41,364.82 L327.62,365.09 L327.82,365.35 L328.02,365.62 L328.22,365.89 L328.42,366.16 L328.62,366.43 L328.82,366.70 L329.02,366.97 L329.22,367.25 L329.42,367.53 L329.62,367.80 L329.82,368.08 L330.02,368.36 L330.22,368.65 L330.42,368.93 L330.62,369.21 L330.82,369.49 L331.02,369.78 L331.22,370.06 L331.42,370.34 L331.62,370.62 L331.82,370.91 L332.02,371.19 L332.22,371.47 L332.42,371.74 L332.63,372.02 L332.83,372.30 L333.03,372.57 L333.23,372.84 L333.43,373.11 L333.63,373.38 L333.83,373.65 L334.03,373.91 L334.23,374.17 L334.43,374.43 L334.63,374.68 L334.83,374.94 L335.03,375.18 L335.23,375.43 L335.43,375.67 L335.63,375.90 L335.83,376.14 L336.03,376.37 L336.23,376.59 L336.43,376.82 L336.63,377.05 L336.83,377.27 L337.03,377.49 L337.23,377.72 L337.43,377.93 L337.64,378.15 L337.84,378.37 L338.04,378.59 L338.24,378.80 L338.44,379.01 L338.64,379.22 L338.84,379.43 L339.04,379.64 L339.24,379.85 L339.44,380.05 L339.64,380.26 L339.84,380.46 L340.04,380.66 L340.24,380.86 L340.44,381.06 L340.64,381.26 L340.84,381.45 L341.04,381.65 L341.24,381.84 L341.44,382.03 L341.64,382.23 L341.84,382.41 L342.04,382.60 L342.24,382.79 L342.44,382.97 L342.65,383.16 L342.85,383.34 L343.05,383.52 L343.25,383.70 L343.45,383.88 L343.65,384.06 L343.85,384.24 L344.05,384.41 L344.25,384.58 L344.45,384.76 L344.65,384.93 L344.85,385.10 L345.05,385.27 L345.25,385.44 L345.45,385.61 L345.65,385.78 L345.85,385.95 L346.05,386.12 L346.25,386.28 L346.45,386.45 L346.65,386.62 L346.85,386.78 L347.05,386.95 L347.25,387.11 L347.45,387.27 L347.66,387.43 L347.86,387.59 L348.06,387.75 L348.26,387.91 L348.46,388.07 L348.66,388.22 L348.86,388.38 L349.06,388.53 L349.26,388.68 L349.46,388.83 L349.66,388.98 L349.86,389.13 L350.06,389.27 L350.26,389.42 L350.46,389.56 L350.66,389.70 L350.86,389.84 L351.06,389.97 L351.26,390.11 L351.46,390.24 L351.66,390.37 L351.86,390.50 L352.06,390.63 L352.26,390.75 L352.46,390.87 L352.67,390.99 L352.87,391.11 L353.07,391.22 L353.27,391.34 L353.47,391.45 L353.67,391.56 L353.87,391.67 L354.07,391.78 L354.27,391.89 L354.47,392.00 L354.67,392.11 L354.87,392.22 L355.07,392.33 L355.27,392.43 L355.47,392.54 L355.67,392.64 L355.87,392.75 L356.07,392.85 L356.27,392.95 L356.47,393.05 L356.67,393.15 L356.87,393.25 L357.07,393.35 L357.27,393.44 L357.47,393.54 L357.68,393.63 L357.88,393.72 L358.08,393.81 L358.28,393.90 L358.48,393.99 L358.68,394.08 L358.88,394.16 L359.08,394.24 L359.28,394.32 L359.48,394.40 L359.68,394.48 L359.88,394.56 L360.08,394.63 L360.28,394.70 L360.48,394.77 L360.68,394.84 L360.88,394.90 L361.08,394.97 L361.28,395.03 L361.48,395.09 L361.68,395.14 L361.88,395.20 L362.08,395.25 L362.28,395.30 L362.48,395.35 L362.69,395.41 L362.89,395.46 L363.09,395.51 L363.29,395.57 L363.49,395.62 L363.69,395.67 L363.89,395.73 L364.09,395.78 L364.29,395.83 L364.49,395.88 L364.69,395.93 L364.89,395.98 L365.09,396.03 L365.29,396.08 L365.49,396.12 L365.69,396.17 L365.89,396.22 L366.09,396.26 L366.29,396.30 L366.49,396.34 L366.69,396.38 L366.89,396.42 L367.09,396.46 L367.29,396.50 L367.49,396.53 L367.70,396.56 L367.90,396.59 L368.10,396.62 L368.30,396.65 L368.50,396.67 L368.70,396.70 L368.90,396.72 L369.10,396.74 L369.30,396.75 L369.50,396.77 L369.70,396.78 L369.90,396.79 L370.10,396.79 L370.30,396.80 L370.50,396.80 L370.70,396.80 L370.90,396.79 L371.10,396.79 L371.30,396.78 L371.50,396.77 L371.70,396.75 L371.90,396.74 L372.10,396.72 L372.30,396.70 L372.51,396.68 L372.71,396.65 L372.91,396.63 L373.11,396.60 L373.31,396.57 L373.51,396.54 L373.71,396.50 L373.91,396.47 L374.11,396.43 L374.31,396.39 L374.51,396.35 L374.71,396.31 L374.91,396.27 L375.11,396.23 L375.31,396.18 L375.51,396.14 L375.71,396.09 L375.91,396.04 L376.11,396.00 L376.31,395.95 L376.51,395.90 L376.71,395.85 L376.91,395.80 L377.11,395.75 L377.31,395.69 L377.52,395.64 L377.72,395.59 L377.92,395.54 L378.12,395.48 L378.32,395.43 L378.52,395.38 L378.72,395.33 L378.92,395.27 L379.12,395.22 L379.32,395.17 L379.52,395.11 L379.72,395.06 L379.92,395.00 L380.12,394.94 L380.32,394.88 L380.52,394.81 L380.72,394.74 L380.92,394.68 L381.12,394.60 L381.32,394.53 L381.52,394.46 L381.72,394.38 L381.92,394.30 L382.12,394.22 L382.32,394.14 L382.53,394.06 L382.73,393.98 L382.93,393.89 L383.13,393.80 L383.33,393.71 L383.53,393.62 L383.73,393.53 L383.93,393.43 L384.13,393.34 L384.33,393.24 L384.53,393.14 L384.73,393.04 L384.93,392.94 L385.13,392.84 L385.33,392.74 L385.53,392.63 L385.73,392.52 L385.93,392.42 L386.13,392.31 L386.33,392.20 L386.53,392.09 L386.73,391.97 L386.93,391.86 L387.13,391.75 L387.33,391.63 L387.54,391.51 L387.74,391.40 L387.94,391.28 L388.14,391.16 L388.34,391.03 L388.54,390.91 L388.74,390.78 L388.94,390.64 L389.14,390.50 L389.34,390.36 L389.54,390.22 L389.74,390.08 L389.94,389.93 L390.14,389.77 L390.34,389.62 L390.54,389.46 L390.74,389.30 L390.94,389.14 L391.14,388.98 L391.34,388.81 L391.54,388.64 L391.74,388.47 L391.94,388.29 L392.14,388.12 L392.34,387.94 L392.55,387.75 L392.75,387.57 L392.95,387.39 L393.15,387.20 L393.35,387.01 L393.55,386.82 L393.75,386.62 L393.95,386.43 L394.15,386.23 L394.35,386.03 L394.55,385.83 L394.75,385.63 L394.95,385.43 L395.15,385.22 L395.35,385.02 L395.55,384.81 L395.75,384.60 L395.95,384.39 L396.15,384.18 L396.35,383.96 L396.55,383.75 L396.75,383.53 L396.95,383.31 L397.15,383.09 L397.35,382.86 L397.56,382.63 L397.76,382.40 L397.96,382.16 L398.16,381.92 L398.36,381.67 L398.56,381.43 L398.76,381.17 L398.96,380.92 L399.16,380.66 L399.36,380.40 L399.56,380.14 L399.76,379.87 L399.96,379.60 L400.16,379.33 L400.36,379.06 L400.56,378.78 L400.76,378.50 L400.96,378.22 L401.16,377.93 L401.36,377.64 L401.56,377.36 L401.76,377.06 L401.96,376.77 L402.16,376.47 L402.36,376.18 L402.57,375.88 L402.77,375.58 L402.97,375.27 L403.17,374.97 L403.37,374.66 L403.57,374.36 L403.77,374.05 L403.97,373.74 L404.17,373.42 L404.37,373.11 L404.57,372.80 L404.77,372.48 L404.97,372.16 L405.17,371.85 L405.37,371.53 L405.57,371.20 L405.77,370.87 L405.97,370.54 L406.17,370.20 L406.37,369.86 L406.57,369.51 L406.77,369.16 L406.97,368.81 L407.17,368.45 L407.37,368.09 L407.58,367.73 L407.78,367.36 L407.98,366.99 L408.18,366.62 L408.38,366.25 L408.58,365.87 L408.78,365.49 L408.98,365.11 L409.18,364.73 L409.38,364.35 L409.58,363.97 L409.78,363.58 L409.98,363.20 L410.18,362.82 L410.38,362.43 L410.58,362.04 L410.78,361.66 L410.98,361.27 L411.18,360.89 L411.38,360.51 L411.58,360.12 L411.78,359.74 L411.98,359.36 L412.18,358.97 L412.38,358.58 L412.59,358.20 L412.79,357.81 L412.99,357.41 L413.19,357.02 L413.39,356.62 L413.59,356.23 L413.79,355.83 L413.99,355.43 L414.19,355.03 L414.39,354.63 L414.59,354.23 L414.79,353.82 L414.99,353.42 L415.19,353.02 L415.39,352.61 L415.59,352.20 L415.79,351.79 L415.99,351.39 L416.19,350.98 L416.39,350.57 L416.59,350.15 L416.79,349.74 L416.99,349.33 L417.19,348.91 L417.39,348.50 L417.60,348.08 L417.80,347.66 L418.00,347.25 L418.20,346.83 L418.40,346.40 L418.60,345.98 L418.80,345.56 L419.00,345.14 L419.20,344.71 L419.40,344.29 L419.60,343.86 L419.80,343.43 L420.00,343.00" stroke-dasharray="4 4.45"/>
</g>
<g fill="none" stroke="#2828b2" stroke-width="1.5"><path d="M389,410.6 H413.6"/><path d="M389,423.7 H413.6" stroke-dasharray="4 4.45"/></g>
<g stroke="#222" stroke-width="1.35" fill="none">
<path d="M420,306.70 H327.90 V447.60 H420"/>
<path d="M348.20,447.60 v-2.10 M348.20,306.70 v2.10 M368.50,447.60 v-3.30 M368.50,306.70 v3.30 M388.80,447.60 v-2.10 M388.80,306.70 v2.10 M409.10,447.60 v-3.30 M409.10,306.70 v3.30 M327.90,320.79 h2.10 M327.90,334.88 h3.30 M327.90,348.97 h2.10 M327.90,363.06 h3.30 M327.90,377.15 h2.10 M327.90,391.24 h3.30 M327.90,405.33 h2.10 M327.90,419.42 h3.30 M327.90,433.51 h2.10"/>
</g>
<g font-size="10.8" text-anchor="end">
<text x="325.3" y="310.10">0.0</text>
<text x="319.30" y="338.28">-0.</text><path fill="#000" d="M323.32,338.00 L322.37,338.00 L322.37,331.95 Q321.56,332.60 320.47,332.97 L320.47,332.05 Q322.00,331.41 322.71,330.24 L323.32,330.24 Z"/>
<text x="325.3" y="366.46">-0.2</text>
<text x="325.3" y="394.64">-0.3</text>
<text x="325.3" y="422.82">-0.4</text>
<text x="325.3" y="451.00">-0.5</text>
</g>
<g font-size="10.8" text-anchor="middle">
<path fill="#000" d="M328.92,459.00 L327.97,459.00 L327.97,452.95 Q327.17,453.60 326.07,453.97 L326.07,453.05 Q327.60,452.41 328.31,451.24 L328.92,451.24 Z"/>
<text x="368.50" y="458.5">2</text>
<text x="409.10" y="458.5">3</text>
</g>
<g transform="translate(294.4,386.6) rotate(-90)"><text transform="scale(0.96,1)" x="0" y="0" font-size="13.6" font-style="italic">M</text><text transform="translate(10.6,4.3) scale(1.12,1)" x="0" y="0" font-size="7.7">min</text></g>
<text transform="translate(401.6,470.7) scale(1.32,1)" x="0" y="0" class="se" font-size="12.4">βω</text>
</svg>
</body></html>
